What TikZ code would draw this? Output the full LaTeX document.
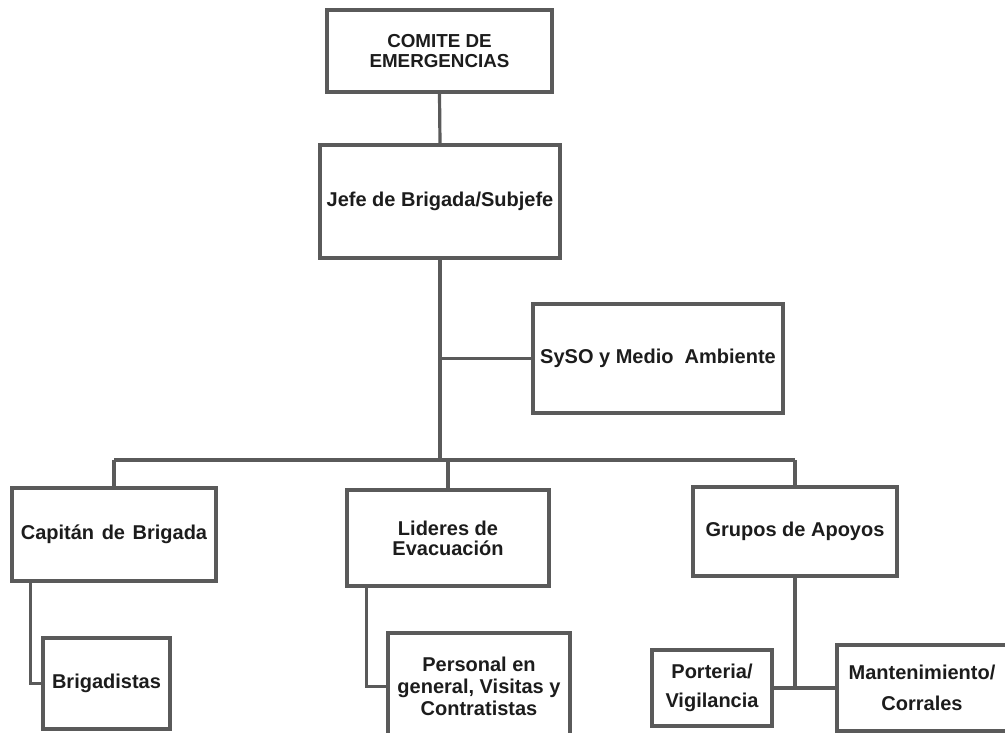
\documentclass[tikz,border=0pt]{standalone}
\usepackage{fontspec}
\setmainfont{Liberation Sans}
\usetikzlibrary{calc}
\definecolor{edgegray}{HTML}{5A5A5A}
\definecolor{inkgray}{HTML}{1C1C1C}
\begin{document}
\begin{tikzpicture}[x=1pt,y=-1pt,
  box/.style={draw=edgegray, line width=3.8pt, rectangle, inner sep=0pt,
    align=center, text=inkgray, font=\fontsize{20}{22}\selectfont\bfseries},
  txt/.style 2 args={font=\fontsize{#1}{#2}\selectfont\bfseries},
  link/.style={draw=edgegray, line width=3.2pt}]
\useasboundingbox (0,0) rectangle (1005,733);
\begin{scope}
\clip (0,0) rectangle (1005,733);
% boxes
\node[box, txt={18.8}{20}, minimum width=225, minimum height=82] (comite) at (439.5,51)
  {COMITE DE\\EMERGENCIAS};
\node[box, minimum width=240, minimum height=113] (jefe) at (440,201.5)
  {Jefe de Brigada/Subjefe};
\node[box, minimum width=250, minimum height=109] (syso) at (658,358.5)
  {SySO y Medio\ \ Ambiente};
\node[box, minimum width=204, minimum height=93] (capitan) at (114,534.5)
  {Capitán\hspace{2pt} de\hspace{2pt} Brigada};
\node[box, txt={20}{20}, minimum width=202, minimum height=96] (lideres) at (448,538)
  {Lideres de\\Evacuación};
\node[box, minimum width=204, minimum height=89] (grupos) at (795,531.5)
  {Grupos de Apoyos};
\node[box, minimum width=127, minimum height=91] (brig) at (106.5,683.5)
  {Brigadistas};
\node[box, txt={20}{22}, minimum width=182, minimum height=107] (personal) at (479,686.5)
  {Personal en\\general, Visitas y\\Contratistas};
\node[box, txt={20}{29}, minimum width=120, minimum height=76] (porteria) at (712,688)
  {Porteria/\\Vigilancia};
\node[box, txt={20}{31}, minimum width=170, minimum height=86] (mant) at (922,688)
  {Mantenimiento/\\Corrales};
% connectors
\coordinate (trunk) at (440,460);
\draw[link] (comite.south) -- (jefe.north);
\draw[link] (jefe.south) -- (trunk);
\draw[link] (jefe.south |- syso.west) -- (syso.west);
\draw[link] (capitan.north |- trunk) -- (grupos.north |- trunk);
\draw[link] (capitan.north |- trunk) -- (capitan.north);
\draw[link] (lideres.north |- trunk) -- (lideres.north);
\draw[link] (grupos.north |- trunk) -- (grupos.north);
\coordinate (capfoot) at ($(capitan.south west)+(20,0)$);
\draw[link] (capfoot) |- (brig.west);
\coordinate (lidfoot) at ($(lideres.south west)+(21,0)$);
\draw[link] (lidfoot) |- (personal.west);
\draw[link] (grupos.south) -- (grupos.south |- porteria.east);
\draw[link] (porteria.east) -- (mant.west);
\end{scope}
\end{tikzpicture}
\end{document}
